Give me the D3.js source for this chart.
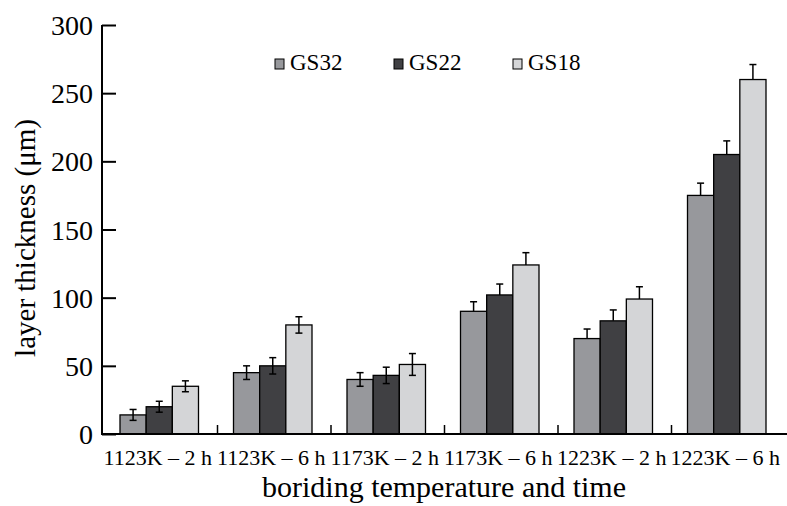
<!DOCTYPE html>
<html>
<head>
<meta charset="UTF-8">
<script src="https://d3js.org/d3.v7.min.js"></script>
<style>
  body { margin: 0; background: #fff; }
  text { font-family: "Liberation Serif", "Times New Roman", serif; fill: #000; }
</style>
</head>
<body>
<svg id="chart" width="787" height="506"></svg>
<script>
// data
var categories = ["1123K \u2013 2 h", "1123K \u2013 6 h", "1173K \u2013 2 h", "1173K \u2013 6 h", "1223K \u2013 2 h", "1223K \u2013 6 h"];
var seriesNames = ["GS32", "GS22", "GS18"];
var gs32 = [14, 45, 40, 90, 70, 175];
var gs22 = [20, 50, 43, 102, 83, 205];
var gs18 = [35, 80, 51, 124, 99, 260];
var gs32Err = [4, 5, 5, 7, 7, 9];
var gs22Err = [4, 6, 6, 8, 8, 10];
var gs18Err = [4, 6, 8, 9, 9, 11];
var yTicks = [0, 50, 100, 150, 200, 250, 300];
var colors = ["#97989c", "#404043", "#d4d5d7"];

var svg = d3.select("#chart");
var values = [gs32, gs22, gs18];
var errs = [gs32Err, gs22Err, gs18Err];

var yScale = d3.scaleLinear().domain([0, 300]).range([434, 25]);
var xScale = d3.scaleBand().domain(categories).range([104, 785]);
var xInner = d3.scaleBand().domain(seriesNames).range([16, xScale.bandwidth() - 19]);

// bars
categories.forEach(function(c, i) {
  seriesNames.forEach(function(s, j) {
    var v = values[j][i];
    var x = xScale(c) + xInner(s);
    svg.append("rect")
      .attr("x", x)
      .attr("y", yScale(v))
      .attr("width", xInner.bandwidth())
      .attr("height", yScale(0) - yScale(v))
      .style("fill", colors[j])
      .style("stroke", "#000")
      .style("stroke-width", 1.3);
    // error bars (lower half hidden for the taller groups, as in the figure)
    var cx = x + xInner.bandwidth() / 2;
    var e = errs[j][i];
    var lo = i < 3 ? v - e : v;
    svg.append("line").attr("x1", cx).attr("x2", cx)
      .attr("y1", yScale(lo)).attr("y2", yScale(v + e))
      .style("stroke", "#000").style("stroke-width", 1.5);
    svg.append("line").attr("x1", cx - 3.5).attr("x2", cx + 3.5)
      .attr("y1", yScale(v + e)).attr("y2", yScale(v + e))
      .style("stroke", "#000").style("stroke-width", 1.5);
    if (i < 3) {
      svg.append("line").attr("x1", cx - 3.5).attr("x2", cx + 3.5)
        .attr("y1", yScale(lo)).attr("y2", yScale(lo))
        .style("stroke", "#000").style("stroke-width", 1.5);
    }
  });
});

// y axis
var leftAxis = d3.axisRight(yScale).tickValues(yTicks).tickSize(14).tickFormat(d3.format("d"));
var gy = svg.append("g").attr("transform", "translate(102,0)").call(leftAxis);
gy.select(".domain").remove();
gy.selectAll(".tick line").style("stroke", "#000").style("stroke-width", 2);
gy.selectAll(".tick text")
  .attr("x", -9).attr("dy", "0.34em")
  .style("text-anchor", "end")
  .style("font-size", "28px");
svg.append("line").attr("x1", 102).attr("x2", 102).attr("y1", yScale(300)).attr("y2", yScale(0) + 1)
  .style("stroke", "#000").style("stroke-width", 2);

// x axis
svg.append("line").attr("x1", 101).attr("x2", 787).attr("y1", yScale(0)).attr("y2", yScale(0))
  .style("stroke", "#000").style("stroke-width", 2);
categories.slice(1).forEach(function(c) {
  svg.append("line").attr("x1", xScale(c)).attr("x2", xScale(c))
    .attr("y1", yScale(0)).attr("y2", yScale(0) - 9)
    .style("stroke", "#000").style("stroke-width", 1.5);
});
categories.forEach(function(c) {
  svg.append("text")
    .attr("x", xScale(c) + xScale.bandwidth() / 2 - 3)
    .attr("y", 465)
    .style("text-anchor", "middle")
    .style("font-size", "22px")
    .text(c);
});

// titles
svg.append("text").attr("x", 444).attr("y", 497)
  .style("text-anchor", "middle").style("font-size", "30px")
  .text("boriding temperature and time");
svg.append("text")
  .attr("transform", "translate(35,238) rotate(-90)")
  .style("text-anchor", "middle").style("font-size", "29px")
  .text("layer thickness (\u03bcm)");

// legend
var legendX = [275, 394, 513];
seriesNames.forEach(function(s, j) {
  svg.append("rect").attr("x", legendX[j]).attr("y", 59).attr("width", 9).attr("height", 10)
    .style("fill", colors[j]).style("stroke", "#000").style("stroke-width", 1);
  svg.append("text").attr("x", legendX[j] + 15).attr("y", 70)
    .style("font-size", "23px").text(s);
});
</script>
</body>
</html>
